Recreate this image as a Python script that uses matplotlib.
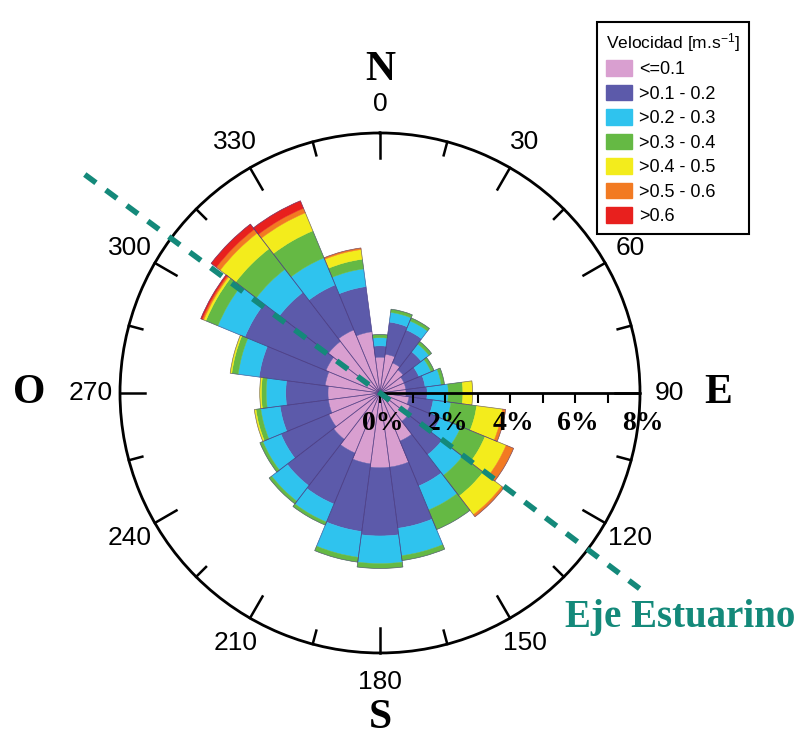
import numpy as np
import matplotlib.pyplot as plt
from matplotlib.patches import Patch

plt.rcParams['mathtext.default'] = 'regular'
plt.rcParams['font.family'] = 'Liberation Sans'

# direction bins (degrees) and frequency (%) for each speed class
dirs = np.arange(0, 360, 15)
p01 = [1.1, 1.2, 1.0, 0.9, 0.8, 0.8, 0.8, 0.9, 1.0, 1.1, 1.6, 2.3, 2.3, 2.2, 2.0, 1.8, 1.7, 1.6, 1.6, 1.7, 1.8, 2.0, 2.1, 1.9]
p02 = [0.35, 1.0, 1.1, 0.7, 0.5, 0.6, 0.65, 0.75, 1.0, 1.3, 1.5, 1.9, 2.1, 2.1, 1.7, 1.8, 1.6, 1.5, 1.3, 2.05, 2.7, 1.9, 1.5, 1.4]
p03 = [0.25, 0.3, 0.3, 0.3, 0.4, 0.5, 0.65, 0.55, 0.7, 0.8, 0.8, 0.85, 0.85, 0.8, 0.6, 0.6, 0.6, 0.6, 0.6, 0.65, 0.9, 0.9, 0.9, 0.55]
p04 = [0.1, 0.1, 0.1, 0.1, 0.1, 0.1, 0.45, 0.8, 0.8, 0.8, 0.65, 0.15, 0.15, 0.15, 0.1, 0.1, 0.1, 0.15, 0.15, 0.2, 0.4, 0.8, 0.9, 0.3]
p05 = [0, 0, 0, 0, 0, 0, 0.3, 0.8, 0.7, 0.72, 0, 0, 0, 0, 0, 0, 0, 0.05, 0.05, 0.05, 0.07, 0.6, 0.6, 0.3]
p06 = [0, 0, 0, 0, 0, 0, 0, 0.1, 0.25, 0.08, 0, 0, 0, 0, 0, 0, 0, 0, 0, 0, 0.05, 0.15, 0.15, 0.05]
p07 = [0, 0, 0, 0, 0, 0, 0, 0, 0, 0, 0, 0, 0, 0, 0, 0, 0, 0, 0, 0, 0.05, 0.2, 0.25, 0]

classes = ['<=0.1', '>0.1 - 0.2', '>0.2 - 0.3', '>0.3 - 0.4', '>0.4 - 0.5', '>0.5 - 0.6', '>0.6']
colors = ['#d99fd0', '#5c5aaa', '#2fc3ee', '#65b944', '#f3ec1c', '#f27a22', '#e8201e']
angle_labels = [0, 30, 60, 90, 120, 150, 180, 210, 240, 270, 300, 330]
teal = '#14897a'

fig = plt.figure(figsize=(8, 7.37), dpi=100)
ax = fig.add_axes([0.15, 0.114, 0.65, 0.7056], projection='polar')
ax.set_theta_zero_location('N')
ax.set_theta_direction(-1)
ax.set_ylim(0, 8)
ax.grid(False)
ax.set_xticks([])
ax.set_yticks([])
ax.spines['polar'].set_linewidth(2)

th = np.radians(dirs)
w = np.radians(15)
bottom = np.zeros(len(dirs))
for vals, c in zip([p01, p02, p03, p04, p05, p06, p07], colors):
    vals = np.array(vals)
    m = vals > 0
    ax.bar(th[m], vals[m], width=w, bottom=bottom[m], color=c, edgecolor=c, lw=0.3, zorder=2)
    bottom += vals
ax.bar(th, bottom, width=w, fill=False, edgecolor='#4a3a80', lw=0.5, alpha=0.7, zorder=3)

# circle ticks (inward)
for a in range(0, 360, 15):
    ln = 0.77 if a % 30 == 0 else 0.43
    ax.plot([np.radians(a)] * 2, [8, 8 - ln], color='k', lw=1.8, zorder=4, clip_on=False)
for a in angle_labels:
    ax.text(np.radians(a), 8.9, str(a), ha='center', va='center', fontsize=19)

# radial axis
ax.plot([np.pi / 2] * 2, [0, 8], color='k', lw=2, zorder=5)
ax.plot([np.pi / 2] * 9, np.arange(9), ls='none', marker=3, ms=7, mew=1.5, color='k', zorder=5)
for r in range(0, 9, 2):
    ax.annotate(f'{r}%', xy=(np.pi / 2, r), xytext=(3, -31), textcoords='offset pixels',
                ha='center', va='center', fontsize=20, fontweight='bold',
                family='Liberation Serif', zorder=6)

# cardinal letters
for a, s, r in [(0, 'N', 9.95), (90, 'E', 10.4), (180, 'S', 10.0), (270, 'O', 10.8)]:
    ax.text(np.radians(a), r, s, ha='center', va='center', fontsize=30, fontweight='bold',
            family='Liberation Serif')

# estuary axis
ax.plot([np.radians(306.5), np.radians(306.5), np.radians(127), np.radians(127)],
        [11.3, 0, 0, 10.0], color=teal, lw=4, ls=(0, (2.5, 2.2)), zorder=7, clip_on=False)
fig.text(680 / 800, 1 - 617 / 737, 'Eje Estuarino', color=teal, ha='center', va='center',
         fontsize=28, fontweight='bold', family='Liberation Serif')

handles = [Patch(facecolor=c, edgecolor=c) for c in colors]
leg = fig.legend(handles, classes, loc='upper left', bbox_to_anchor=(597 / 800, 1 - 22 / 737),
                 title='Velocidad [m.s$^{-1}$]', title_fontsize=12.5,
                 handlelength=1.45, handleheight=0.95, handletextpad=0.4, labelspacing=0.36,
                 borderpad=0.5, borderaxespad=0, fancybox=False, framealpha=1, edgecolor='k',
                 alignment='left', prop={'size': 13})
leg.get_frame().set_linewidth(1.5)

fig.savefig('out.png', dpi=100)
